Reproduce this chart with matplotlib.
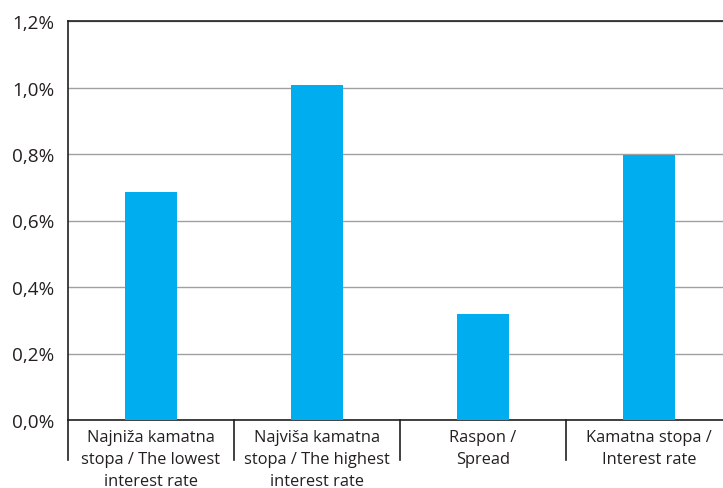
import matplotlib.pyplot as plt
from matplotlib.ticker import FuncFormatter
from matplotlib.lines import Line2D

# Data
categories = ['Najniža kamatna\nstopa / The lowest\ninterest rate',
              'Najviša kamatna\nstopa / The highest\ninterest rate',
              'Raspon /\nSpread',
              'Kamatna stopa /\nInterest rate']
values = [0.686, 1.008, 0.319, 0.797]
yticks = [0.0, 0.2, 0.4, 0.6, 0.8, 1.0, 1.2]

plt.rcParams['font.family'] = ['Open Sans', 'DejaVu Sans']

fig = plt.figure(figsize=(7.23, 4.89), dpi=100)
ax = fig.add_axes([68 / 723, 1 - 421 / 489, 664 / 723, 399 / 489])

x = list(range(len(categories)))
ax.bar(x, values, width=0.31, color='#00AEEF', zorder=3)

ax.set_xlim(-0.5, len(categories) - 0.5)
ax.set_ylim(0, 1.2)
ax.set_yticks(yticks)
ax.yaxis.set_major_formatter(FuncFormatter(lambda v, p: f'{v:.1f}%'.replace('.', ',')))
ax.tick_params(axis='y', length=0, pad=10, labelsize=13.6, colors='#231f20')
ax.set_xticks([])

ax.grid(axis='y', color='#a0a0a0', linewidth=1, zorder=0)
for s in ['left', 'bottom', 'top']:
    ax.spines[s].set_color('#231f20')
    ax.spines[s].set_linewidth(1.2)
ax.spines['right'].set_visible(False)

# category labels and separators below the axis
trans = ax.get_xaxis_transform()
for i, lab in enumerate(categories):
    ax.text(i, -0.022, lab, transform=trans, ha='center', va='top',
            fontsize=11.8, linespacing=1.5, color='#231f20')
sep_bottom = -40 / 399
for b in [i - 0.5 for i in range(len(categories) + 1)]:
    ax.add_line(Line2D([b, b], [0, sep_bottom], transform=trans,
                       color='#231f20', linewidth=1.2, clip_on=False))

fig.savefig('out.png', dpi=100)
